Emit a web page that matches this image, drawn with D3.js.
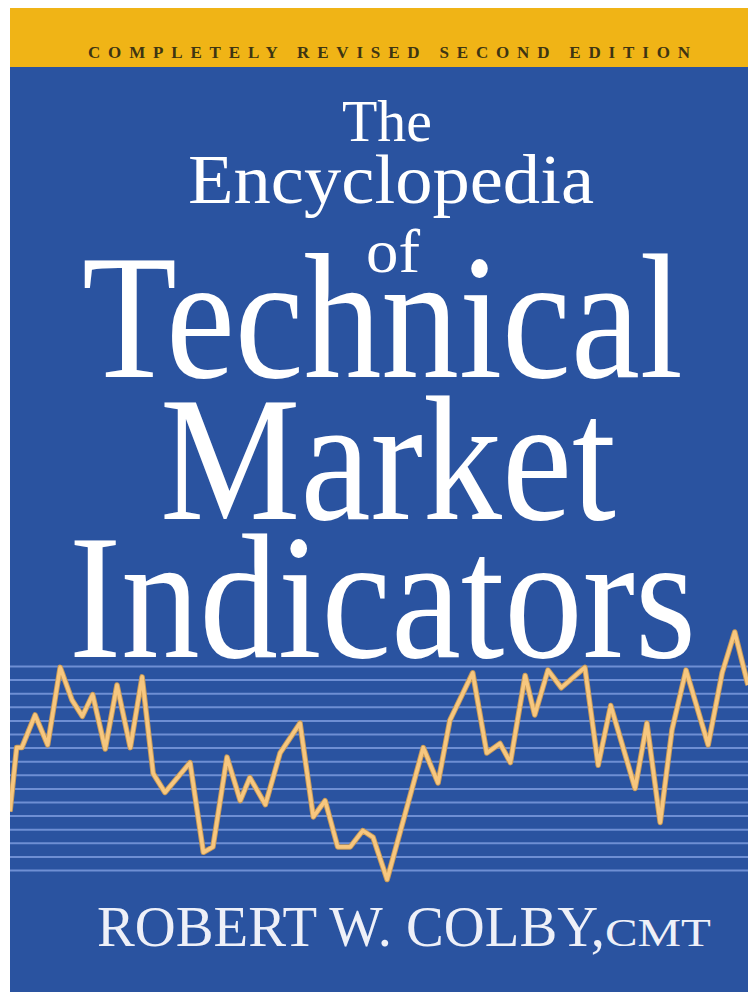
<!DOCTYPE html>
<html>
<head>
<meta charset="utf-8">
<script src="https://cdn.jsdelivr.net/npm/d3@7"></script>
<style>
  html, body { margin: 0; padding: 0; background: #fff; }
  svg { display: block; }
</style>
</head>
<body>
<div id="cover"></div>
<script>
// price trace (t = session, v = level in grid steps)
const sessions = [0, 0.9, 1.6, 3.4, 5.1, 6.8, 8.4, 9.8, 11.2, 12.9, 14.5, 16.3, 17.9, 19.4, 21.0,
  24.4, 26.2, 27.5, 29.4, 31.2, 32.5, 34.6, 36.6, 39.3, 41.1, 42.7, 44.4, 46.1, 47.8, 49.2, 51.1,
  56.0, 58.0, 59.6, 62.7, 64.6, 66.4, 67.8, 69.8, 71.1, 72.9, 74.7, 77.9, 79.7, 81.4, 84.7, 86.3,
  88.1, 89.7, 91.6, 94.6, 96.5, 98.2, 100];
const levels = [4.3, 9.0, 9.0, 11.4, 9.2, 14.9, 12.5, 11.3, 12.9, 8.9, 13.6, 9.0, 14.2, 7.1, 5.7,
  7.9, 1.3, 1.7, 8.3, 5.1, 6.8, 4.8, 8.6, 10.8, 3.9, 5.1, 1.7, 1.7, 2.9, 2.4, -0.7,
  9.0, 6.4, 11.0, 14.5, 8.6, 9.3, 7.9, 14.3, 11.4, 14.7, 13.4, 14.9, 7.7, 12.1, 6.0, 10.8,
  3.5, 10.3, 14.7, 9.2, 14.5, 17.5, 13.6];
const gridLevels = d3.range(0, 16);

const banner = 'COMPLETELY REVISED SECOND EDITION';
const titleLines = ['The', 'Encyclopedia', 'of', 'Technical', 'Market', 'Indicators'];
const author = 'ROBERT W. COLBY,';
const suffix = 'CMT';

const W = 748, H = 992;
const padL = 10, padT = 8;

const svg = d3.select('#cover').append('svg')
  .attr('width', W)
  .attr('height', H);

svg.append('defs').append('clipPath').attr('id', 'cv')
  .append('rect').attr('x', padL).attr('y', padT).attr('width', W - padL).attr('height', H - padT);

// background
svg.append('rect').attr('x', padL).attr('y', padT).attr('width', W - padL).attr('height', H - padT)
  .attr('fill', '#2a53a0');
svg.append('rect').attr('x', padL).attr('y', padT).attr('width', W - padL).attr('height', 59)
  .attr('fill', '#f0b416');

svg.append('text')
  .attr('x', 88).attr('y', 58)
  .attr('textLength', 602).attr('lengthAdjust', 'spacing')
  .attr('font-family', '"Liberation Serif", serif')
  .attr('font-weight', 'bold')
  .attr('font-size', 17)
  .attr('fill', '#3e3512')
  .text(banner);

// chart
const x = d3.scaleLinear().domain([0, 100]).range([padL, W]);
const y = d3.scaleLinear().domain([0, 15]).range([870, 666]);

const plot = svg.append('g').attr('clip-path', 'url(#cv)');

plot.append('g')
  .attr('transform', `translate(${padL},0)`)
  .call(d3.axisLeft(y).tickValues(gridLevels).tickSize(-(W - padL)).tickFormat(''))
  .call(g => g.select('.domain').remove())
  .selectAll('.tick line')
  .attr('stroke', '#6e8fd4')
  .attr('stroke-width', 2);

const pts = sessions.map((t, i) => ({ t, v: levels[i] }));
const line = d3.line().x(d => x(d.t)).y(d => y(d.v));

plot.append('path').datum(pts)
  .attr('fill', 'none')
  .attr('stroke', '#c79a58')
  .attr('stroke-width', 5.5)
  .attr('stroke-linejoin', 'round')
  .attr('d', line);
plot.append('path').datum(pts)
  .attr('fill', 'none')
  .attr('stroke', '#f7c77f')
  .attr('stroke-width', 3.6)
  .attr('stroke-linejoin', 'round')
  .attr('d', line);

// title
const titleBox = [
  { x: 342, y: 141, w: 90, size: 60 },
  { x: 188, y: 203, w: 406, size: 70 },
  { x: 366, y: 272, w: 54, size: 62 },
  { x: 82, y: 377, w: 601, size: 178 },
  { x: 160, y: 519, w: 456, size: 178 },
  { x: 69, y: 657, w: 627, size: 178 }
];
svg.append('g').selectAll('text')
  .data(titleLines)
  .join('text')
  .attr('x', (d, i) => titleBox[i].x)
  .attr('y', (d, i) => titleBox[i].y)
  .attr('textLength', (d, i) => titleBox[i].w)
  .attr('lengthAdjust', 'spacingAndGlyphs')
  .attr('font-family', '"Liberation Serif", serif')
  .attr('font-size', (d, i) => titleBox[i].size)
  .attr('fill', '#ffffff')
  .text(d => d);

// author
const a = svg.append('text')
  .attr('x', 97).attr('y', 946)
  .attr('font-family', '"Liberation Serif", serif')
  .attr('fill', '#eef0f8');
a.append('tspan').attr('font-size', 57).attr('textLength', 508).attr('lengthAdjust', 'spacingAndGlyphs').text(author);
a.append('tspan').attr('font-size', 40).attr('textLength', 106).attr('lengthAdjust', 'spacingAndGlyphs').text(suffix);
</script>
</body>
</html>
